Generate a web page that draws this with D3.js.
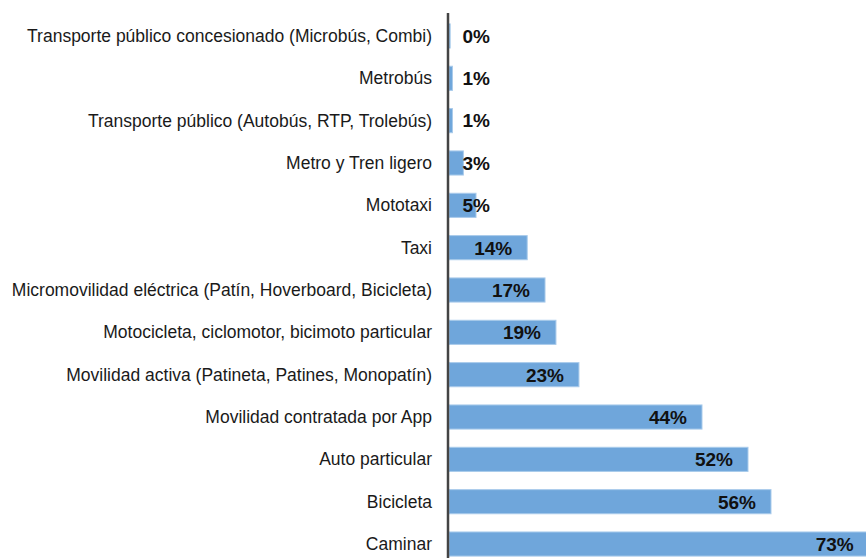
<!DOCTYPE html>
<html>
<head>
<meta charset="utf-8">
<script src="https://cdn.jsdelivr.net/npm/d3@7"></script>
<style>
  body { margin: 0; background: #fff; }
  svg { display: block; font-family: "Liberation Sans", Arial, sans-serif; }
</style>
</head>
<body>
<svg width="866" height="558"></svg>
<script>
// categories, top to bottom
var categories = [
  "Transporte público concesionado (Microbús, Combi)",
  "Metrobús",
  "Transporte público (Autobús, RTP, Trolebús)",
  "Metro y Tren ligero",
  "Mototaxi",
  "Taxi",
  "Micromovilidad eléctrica (Patín, Hoverboard, Bicicleta)",
  "Motocicleta, ciclomotor, bicimoto particular",
  "Movilidad activa (Patineta, Patines, Monopatín)",
  "Movilidad contratada por App",
  "Auto particular",
  "Bicicleta",
  "Caminar"
]
var values = [0.2, 0.6, 0.6, 2.5, 4.7, 13.6, 16.7, 18.6, 22.6, 44, 52, 56, 73]
// what the data labels say
var valueLabels = ["0%", "1%", "1%", "3%", "5%", "14%", "17%", "19%", "23%", "44%", "52%", "56%", "73%"]

var svg = d3.select("svg"),
    width = +svg.attr("width"),
    height = +svg.attr("height")

var x0 = 449
var x = d3.scaleLinear().domain([0, 80]).range([x0, x0 + 80 * 5.75])
var y = d3.scaleBand().domain(categories).range([14.8, 565.2]).paddingInner(0.43).paddingOuter(0.215)

var rows = categories.map(function(c, i) { return {cat: c, v: values[i], label: valueLabels[i]} })

// bars
svg.selectAll(".bar")
  .data(rows)
  .enter().append("rect")
    .attr("class", "bar")
    .attr("x", x(0))
    .attr("y", function(d) { return y(d.cat) })
    .attr("width", function(d) { return x(d.v) - x(0) })
    .attr("height", y.bandwidth())
    .style("fill", "#6fa6db")
    .style("stroke", "#a9cbeb")
    .style("stroke-width", 1)

// category labels
svg.selectAll(".cat")
  .data(rows)
  .enter().append("text")
    .attr("class", "cat")
    .attr("x", 432)
    .attr("y", function(d) { return y(d.cat) + y.bandwidth() / 2 })
    .attr("dy", "0.35em")
    .attr("text-anchor", "end")
    .style("font-size", "17.5px")
    .style("fill", "#1a1a1a")
    .text(function(d) { return d.cat })

// value labels, inside the bar end, but never left of a minimum spot
svg.selectAll(".val")
  .data(rows)
  .enter().append("text")
    .attr("class", "val")
    .attr("x", function(d) { return Math.max(x(d.v) - 15, x0 + 41) })
    .attr("y", function(d) { return y(d.cat) + y.bandwidth() / 2 })
    .attr("dy", "0.36em")
    .attr("text-anchor", "end")
    .style("font-size", "19px")
    .style("font-weight", "bold")
    .style("fill", "#111")
    .text(function(d) { return d.label })

// vertical axis line
svg.append("line")
  .attr("x1", 448).attr("x2", 448)
  .attr("y1", 13).attr("y2", height)
  .style("stroke", "#444")
  .style("stroke-width", 2.5)
</script>
</body>
</html>
